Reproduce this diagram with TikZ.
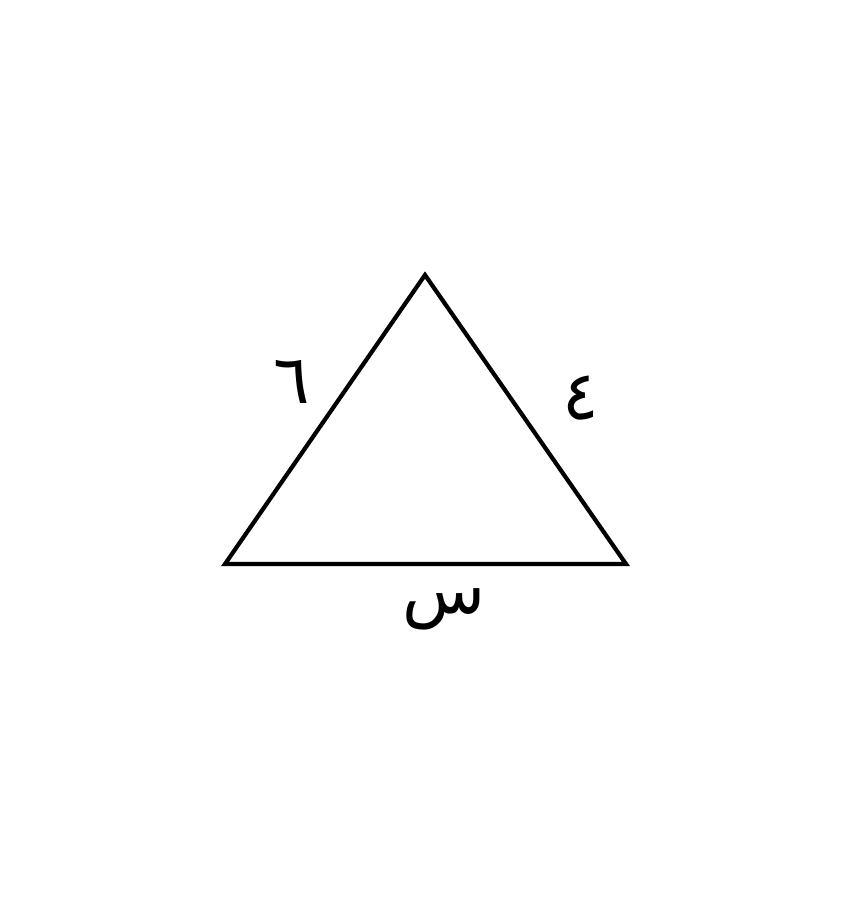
\documentclass[tikz,border=0pt]{standalone}
\usepackage{fontspec}
\newfontfamily\arabicfont[Script=Arabic]{DejaVu Sans}
\TeXXeTstate=1
\begin{document}
\begin{tikzpicture}[x=1pt,y=1pt,
  side/.style={line width=4.2pt,line join=miter},
  lbl/.style={font=\arabicfont\fontsize{68}{80}\selectfont,inner sep=0pt}]
\useasboundingbox (0,0) rectangle (850,900);
\coordinate (T) at (425,625);
\coordinate (L) at (225,336);
\coordinate (R) at (626,336);
\draw[side] (T) -- (R) -- (L) -- cycle;
\node[lbl] (a) at (292,518) {\beginR ٦\endR};
\node[lbl] (b) at (581,502) {\beginR ٤\endR};
\node[lbl] (c) at (444,291) {\beginR س\endR};
\end{tikzpicture}
\end{document}
